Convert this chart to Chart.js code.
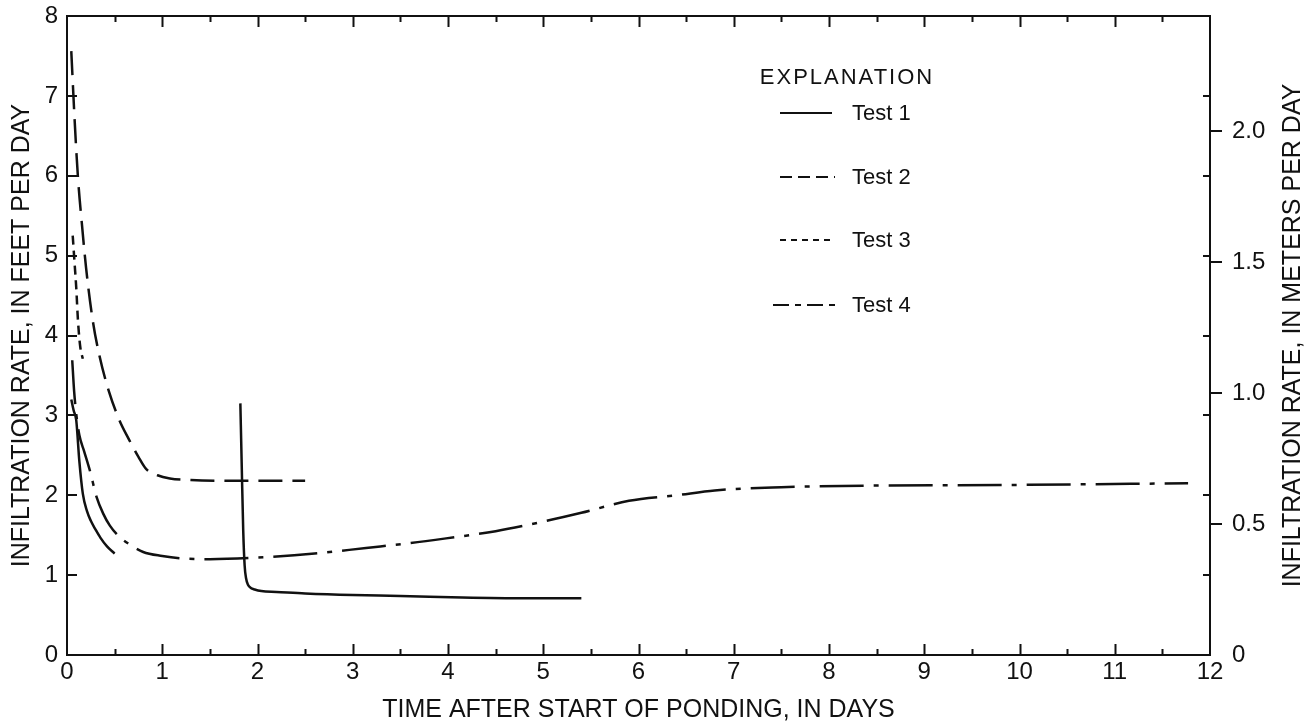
<!DOCTYPE html>
<html>
<head>
<meta charset="utf-8">
<title>Infiltration rate</title>
<script src="https://cdn.jsdelivr.net/npm/chart.js@4.4.1/dist/chart.umd.min.js"></script>
<style>
  html, body { margin: 0; padding: 0; background: #fff; }
  #wrap { width: 1310px; height: 727px; }
</style>
</head>
<body>
<div id="wrap"><canvas id="rateChart" width="1310" height="727"></canvas></div>
<script>
// infiltration rate, feet per day, against days since ponding started
const test1EarlyDays = [0.045, 0.07, 0.097, 0.13, 0.166, 0.21, 0.25, 0.3, 0.35, 0.42, 0.5]
const test1EarlyRate = [3.2, 3.06, 2.94, 2.42, 2.02, 1.8, 1.68, 1.57, 1.47, 1.36, 1.27]
const test1LateDays = [1.82, 1.835, 1.85, 1.865, 1.88, 1.9, 1.93, 1.97, 2.04, 2.2, 2.5, 3.0, 3.5, 4.15, 4.8, 5.4]
const test1LateRate = [3.15, 2.34, 1.56, 1.12, 0.96, 0.88, 0.84, 0.82, 0.8, 0.79, 0.77, 0.75, 0.74, 0.72, 0.71, 0.71]

const test2Days = [0.045, 0.08, 0.115, 0.16, 0.2, 0.27, 0.34, 0.44, 0.55, 0.65, 0.75, 0.83, 0.95, 1.08, 1.3, 1.8, 2.5]
const test2Rate = [7.56, 6.7, 5.98, 5.35, 4.85, 4.19, 3.75, 3.3, 2.94, 2.7, 2.48, 2.33, 2.25, 2.21, 2.19, 2.18, 2.18]

const test3Days = [0.06, 0.08, 0.097, 0.115, 0.14, 0.166]
const test3Rate = [5.25, 4.9, 4.6, 4.19, 3.85, 3.71]

const test4Days = [0.055, 0.075, 0.097, 0.13, 0.18, 0.24, 0.31, 0.38, 0.45, 0.55, 0.65, 0.8, 1.0, 1.2, 1.5, 2.0, 2.6, 3.14, 3.6, 3.98, 4.5, 5.0, 5.4, 5.9, 6.4, 6.8, 7.5, 8.4, 10.0, 11.77]
const test4Rate = [3.69, 3.3, 3.02, 2.75, 2.55, 2.31, 1.98, 1.77, 1.62, 1.48, 1.39, 1.29, 1.24, 1.21, 1.2, 1.22, 1.27, 1.34, 1.4, 1.46, 1.55, 1.67, 1.78, 1.93, 2.0, 2.06, 2.1, 2.12, 2.13, 2.15]

const legendLabels = ['Test 1', 'Test 2', 'Test 3', 'Test 4']
const dayTicks = [0, 1, 2, 3, 4, 5, 6, 7, 8, 9, 10, 11, 12]
const feetTicks = [0, 1, 2, 3, 4, 5, 6, 7, 8]
const meterTicks = [0, 0.5, 1.0, 1.5, 2.0]

const FT_TO_M = 0.3048
const ink = '#111'
const family = "'Liberation Sans', Arial, Helvetica, sans-serif"

const dashes = [[], [24, 10], [9, 6], [44, 10, 5, 10]]

function toPoints (days, rates) {
  return days.map((d, i) => ({ x: d, y: rates[i] }))
}

// test 1 was run twice, so leave a gap between the two runs
const test1Points = toPoints(test1EarlyDays, test1EarlyRate)
  .concat([{ x: 1.0, y: null }])
  .concat(toPoints(test1LateDays, test1LateRate))

const seriesPoints = [
  test1Points,
  toPoints(test2Days, test2Rate),
  toPoints(test3Days, test3Rate),
  toPoints(test4Days, test4Rate)
]

const datasets = seriesPoints.map((pts, i) => ({
  label: legendLabels[i],
  data: pts,
  borderColor: ink,
  borderWidth: 2.5,
  borderDash: dashes[i],
  pointRadius: 0,
  fill: false,
  spanGaps: false,
  cubicInterpolationMode: 'monotone'
}))

// frame along the top plus the inward/outward tick marks on every side
const frameTicks = {
  id: 'frameTicks',
  afterDraw (chart) {
    const { ctx, chartArea: { left, right, top, bottom }, scales: { x, y, y2 } } = chart
    ctx.save()
    ctx.strokeStyle = ink
    ctx.lineWidth = 2
    ctx.beginPath()
    ctx.moveTo(left - 1, top)
    ctx.lineTo(right + 1, top)
    for (let i = 1; i < dayTicks.length * 2 - 2; i++) {
      const px = Math.round(x.getPixelForValue(i / 2)) + 0.5
      const len = i % 2 === 0 ? 11 : 6
      ctx.moveTo(px, bottom)
      ctx.lineTo(px, bottom - len)
      ctx.moveTo(px, top)
      ctx.lineTo(px, top + len)
    }
    feetTicks.slice(1, -1).forEach(f => {
      const py = Math.round(y.getPixelForValue(f))
      ctx.moveTo(left, py)
      ctx.lineTo(left + 10, py)
      ctx.moveTo(right, py)
      ctx.lineTo(right - 7, py)
    })
    meterTicks.slice(1).forEach(m => {
      const py = Math.round(y2.getPixelForValue(m))
      ctx.moveTo(right, py)
      ctx.lineTo(right + 12, py)
    })
    ctx.stroke()

    // right-hand title reads bottom to top like the left one
    ctx.fillStyle = ink
    ctx.font = '25px ' + family
    ctx.textAlign = 'center'
    ctx.textBaseline = 'middle'
    ctx.translate(1293, (top + bottom) / 2)
    ctx.rotate(-Math.PI / 2)
    ctx.fillText('INFILTRATION RATE, IN METERS PER DAY', 0, 0)
    ctx.restore()
  }
}

// unboxed key in the upper right of the plot
const explanation = {
  id: 'explanation',
  afterDraw (chart) {
    const { ctx } = chart
    const rowsY = [113, 177, 240, 305]
    const lineStart = [780, 780, 780, 773]
    const lineEnd = [832, 835, 833, 838]
    ctx.save()
    ctx.fillStyle = ink
    ctx.strokeStyle = ink
    ctx.textBaseline = 'middle'
    ctx.font = '22px ' + family
    ctx.letterSpacing = '2px'
    ctx.textAlign = 'center'
    ctx.fillText('EXPLANATION', 847, 78)
    ctx.letterSpacing = '0px'
    ctx.textAlign = 'left'
    legendLabels.forEach((label, i) => {
      ctx.lineWidth = 2
      ctx.setLineDash(i === 1 ? [12, 6] : i === 2 ? [6, 5] : i === 3 ? [16, 6, 6, 6] : [])
      ctx.beginPath()
      ctx.moveTo(lineStart[i], rowsY[i])
      ctx.lineTo(lineEnd[i], rowsY[i])
      ctx.stroke()
      ctx.fillText(label, 852, rowsY[i] + 1)
    })
    ctx.restore()
  }
}

const tickFont = { family: family, size: 24 }
const titleFont = { family: family, size: 25 }

// pin the plot box: no extra room for half-labels at the ends of the axes
function noEndPadding (scale) {
  scale.paddingTop = 0
  scale.paddingBottom = 0
  scale.paddingLeft = 0
  scale.paddingRight = 0
}

new Chart(document.getElementById('rateChart').getContext('2d'), {
  type: 'line',
  data: { datasets: datasets },
  options: {
    responsive: false,
    animation: false,
    devicePixelRatio: 1,
    layout: { padding: { top: 16, left: 0, right: 0, bottom: 0 } },
    plugins: {
      legend: { display: false },
      tooltip: { enabled: false }
    },
    scales: {
      x: {
        type: 'linear',
        position: 'bottom',
        min: dayTicks[0],
        max: dayTicks[dayTicks.length - 1],
        afterBuildTicks: scale => { scale.ticks = dayTicks.map(v => ({ value: v })) },
        grid: { display: false, drawTicks: false },
        border: { display: true, color: ink, width: 2 },
        ticks: { color: ink, font: tickFont, padding: 3, maxRotation: 0, autoSkip: false },
        title: {
          display: true,
          text: 'TIME AFTER START OF PONDING, IN DAYS',
          color: ink,
          font: titleFont,
          padding: { top: 0, bottom: 2 }
        },
        afterFit: scale => { scale.height = 72; noEndPadding(scale) }
      },
      y: {
        type: 'linear',
        position: 'left',
        min: feetTicks[0],
        max: feetTicks[feetTicks.length - 1],
        afterBuildTicks: scale => { scale.ticks = feetTicks.map(v => ({ value: v })) },
        grid: { display: false, drawTicks: false },
        border: { display: true, color: ink, width: 2 },
        ticks: { color: ink, font: tickFont, padding: 9 },
        title: {
          display: true,
          text: 'INFILTRATION RATE, IN FEET PER DAY',
          color: ink,
          font: titleFont,
          padding: { top: 7, bottom: 0 }
        },
        afterFit: scale => { scale.width = 67; noEndPadding(scale) }
      },
      y2: {
        type: 'linear',
        position: 'right',
        min: 0,
        max: feetTicks[feetTicks.length - 1] * FT_TO_M,
        afterBuildTicks: scale => { scale.ticks = meterTicks.map(v => ({ value: v })) },
        grid: { display: false, drawTicks: false },
        border: { display: true, color: ink, width: 2 },
        ticks: {
          color: ink,
          font: tickFont,
          padding: 22,
          callback: v => v === 0 ? '0' : v.toFixed(1)
        },
        afterFit: scale => { scale.width = 100; noEndPadding(scale) }
      }
    }
  },
  plugins: [frameTicks, explanation]
})
</script>
</body>
</html>
